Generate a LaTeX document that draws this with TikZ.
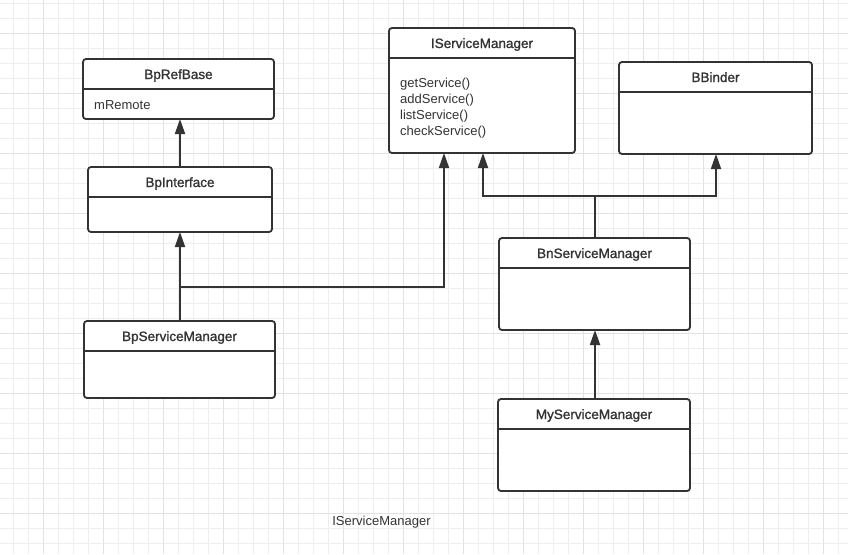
\documentclass[tikz,border=0pt]{standalone}
\usepackage{fontspec}
\setmainfont{Liberation Sans}
\newfontfamily\hdfont[FakeBold=1.2]{Liberation Sans}
\usetikzlibrary{arrows.meta}
\definecolor{ink}{HTML}{333333}
\definecolor{gridlight}{RGB}{238,238,238}
\definecolor{griddark}{RGB}{226,226,226}
\begin{document}
\begin{tikzpicture}[x=1pt,y=-1pt,
  umlbox/.style={draw=ink, line width=1.8pt, fill=white, rounded corners=3pt, rectangle, inner sep=0pt, outer sep=0pt, anchor=north west},
  hdr/.style={font=\hdfont\fontsize{13.5}{15}\selectfont, text=ink, anchor=base, inner sep=0pt},
  body/.style={font=\fontsize{13}{15.5}\selectfont, text=ink, anchor=base west, inner sep=0pt},
  inh/.style={draw=ink, line width=1.8pt, -{Triangle[length=15pt,width=10pt]}},
  link/.style={draw=ink, line width=1.8pt}]
\useasboundingbox (0,0) rectangle (848,554);
\fill[white] (0,0) rectangle (848,554);
% grid
\foreach \i in {0,...,56} {\draw[gridlight, line width=1pt] ({13.5+15*\i},0) -- ({13.5+15*\i},554);}
\foreach \i in {0,...,36} {\draw[gridlight, line width=1pt] (0,{3.5+15*\i}) -- (848,{3.5+15*\i});}
\foreach \i in {0,...,13} {\draw[griddark, line width=1pt] ({43.5+60*\i},0) -- ({43.5+60*\i},554);}
\foreach \i in {0,...,8} {\draw[griddark, line width=1pt] (0,{33.5+60*\i}) -- (848,{33.5+60*\i});}

% boxes
\node[umlbox, minimum width=191pt, minimum height=60pt] (bprefbase) at (83,59) {};
\node[umlbox, minimum width=184pt, minimum height=65pt] (bpinterface) at (88,167) {};
\node[umlbox, minimum width=186pt, minimum height=125pt] (ism) at (389,28) {};
\node[umlbox, minimum width=193pt, minimum height=92pt] (bbinder) at (619,62) {};
\node[umlbox, minimum width=191pt, minimum height=92pt] (bn) at (499,238) {};
\node[umlbox, minimum width=191pt, minimum height=77pt] (bps) at (84,321) {};
\node[umlbox, minimum width=192pt, minimum height=92pt] (my) at (498,399) {};

% separators and headers
\foreach \b/\t in {bprefbase/BpRefBase, bpinterface/BpInterface, ism/IServiceManager, bbinder/BBinder, bn/BnServiceManager, bps/BpServiceManager, my/MyServiceManager} {
  \draw[link] ([yshift=-30pt]\b.north west) -- ([yshift=-30pt]\b.north east);
  \node[hdr] (\b-h) at ([yshift=-20pt]\b.north) {\t};
}

% members
\node[body] (bprefbase-m1) at (94,109) {mRemote};
\node[body] (ism-m1) at (400,87) {getService()};
\node[body] (ism-m2) at (400,103) {addService()};
\node[body] (ism-m3) at (400,119) {listService()};
\node[body] (ism-m4) at (400,135) {checkService()};

% connectors
\coordinate (bpif-top) at ([xshift=0pt]bpinterface.north);
\draw[inh] (bpif-top) -- (bpif-top |- bprefbase.south);
\coordinate (bps-top) at ([xshift=0.5pt]bps.north);
\draw[inh] (bps-top) -- (bps-top |- bpinterface.south);
\coordinate (j1) at ([yshift=34pt]bps-top);
\coordinate (ismin1) at ([xshift=55pt]ism.south west);
\draw[inh] (j1) -| (ismin1);
\coordinate (bn-top) at ([xshift=0.5pt]bn.north);
\coordinate (j2) at ([yshift=42pt]bn-top);
\coordinate (ismin2) at ([xshift=94pt]ism.south west);
\draw[link] (bn-top) -- (j2);
\draw[inh] (j2) -| (ismin2);
\coordinate (bbin) at ([xshift=0.5pt]bbinder.south);
\draw[inh] (j2) -| (bbin);
\coordinate (my-top) at ([xshift=1pt]my.north);
\draw[inh] (my-top) -- (my-top |- bn.south);

% caption
\node[body, anchor=base] (caption) at (381.5,525.5) {IServiceManager};
\end{tikzpicture}
\end{document}
